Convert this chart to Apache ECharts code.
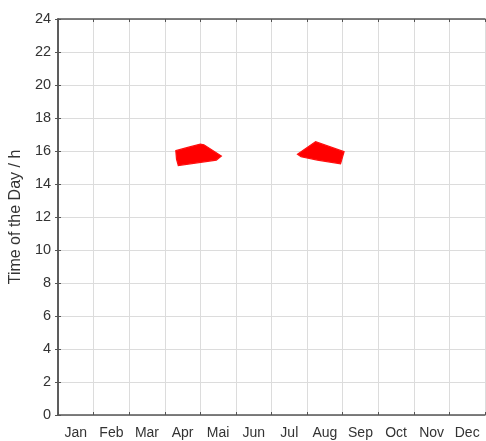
<!DOCTYPE html>
<html>
<head>
<meta charset="utf-8">
<script src="https://cdn.jsdelivr.net/npm/echarts@6/dist/echarts.min.js"></script>
<style>
  html, body { margin: 0; padding: 0; background: #fff; }
  #chart { width: 486px; height: 441px; }
</style>
</head>
<body>
<div id="chart"></div>
<script>
const months = ["Jan", "Feb", "Mar", "Apr", "Mai", "Jun", "Jul", "Aug", "Sep", "Oct", "Nov", "Dec"];
const hourTicks = [0, 2, 4, 6, 8, 10, 12, 14, 16, 18, 20, 22, 24];

// [month (continuous, 0 = start of Jan), hour of day]
const aprilShape = [
  [3.31, 16.02], [3.70, 16.25], [4.00, 16.42], [4.10, 16.38],
  [4.59, 15.70], [4.45, 15.45], [3.38, 15.12], [3.33, 15.50]
];
const augustShape = [
  [6.73, 15.80], [7.24, 16.56], [8.04, 15.96], [7.94, 15.22],
  [7.29, 15.45], [6.83, 15.65]
];

const frame = "#555";
const gridCol = "#dcdcdc";
const textCol = "#333";
const font = "Liberation Sans, Arial";

const polySeries = (pts) => ({
  type: "custom",
  xAxisIndex: 0,
  yAxisIndex: 0,
  data: pts,
  renderItem: (params, api) => {
    if (params.dataIndex !== 0) return;
    return {
      type: "polygon",
      shape: { points: pts.map((p) => api.coord(p)) },
      style: { fill: "#ff0000", stroke: "#ff1010", lineWidth: 1.2 }
    };
  },
  silent: true,
  z: 5
});

const chart = echarts.init(document.getElementById("chart"));
chart.setOption({
  animation: false,
  grid: { left: 56, right: 1, top: 19, bottom: 26 },
  xAxis: [
    {
      type: "value", min: 0, max: 12, interval: 1, position: "bottom",
      axisLine: { lineStyle: { color: frame, width: 1.5 } },
      axisTick: { inside: true, length: 3, lineStyle: { color: frame } },
      axisLabel: { show: false },
      splitLine: { lineStyle: { color: gridCol } }
    },
    {
      type: "category", data: months, position: "bottom", boundaryGap: true,
      axisLine: { show: false }, axisTick: { show: false },
      axisLabel: { color: textCol, fontSize: 14, fontFamily: font, margin: 11, interval: 0 }
    },
    {
      type: "value", min: 0, max: 12, interval: 1, position: "top",
      axisLine: { lineStyle: { color: frame, width: 1.5 } },
      axisTick: { inside: true, length: 3, lineStyle: { color: frame } },
      axisLabel: { show: false }, splitLine: { show: false }
    }
  ],
  yAxis: [
    {
      type: "value", min: 0, max: 24, interval: 2, position: "left",
      name: "Time of the Day / h", nameLocation: "middle", nameGap: 31, nameRotate: 90,
      nameTextStyle: { color: textCol, fontSize: 16, fontFamily: font },
      axisLine: { show: true, lineStyle: { color: frame, width: 1.5 } },
      axisTick: { show: true, inside: true, length: 3, lineStyle: { color: frame } },
      axisLabel: {
        color: textCol, fontSize: 14.5, fontFamily: font, margin: 7,
        formatter: (v) => (hourTicks.includes(v) ? String(v) : "")
      },
      splitLine: { lineStyle: { color: gridCol } }
    },
    {
      type: "value", min: 0, max: 24, interval: 2, position: "right",
      axisLine: { show: true, lineStyle: { color: frame, width: 1.5 } },
      axisTick: { show: true, inside: true, length: 3, lineStyle: { color: frame } },
      axisLabel: { show: false }, splitLine: { show: false }
    }
  ],
  series: [polySeries(aprilShape), polySeries(augustShape)]
});
</script>
</body>
</html>
